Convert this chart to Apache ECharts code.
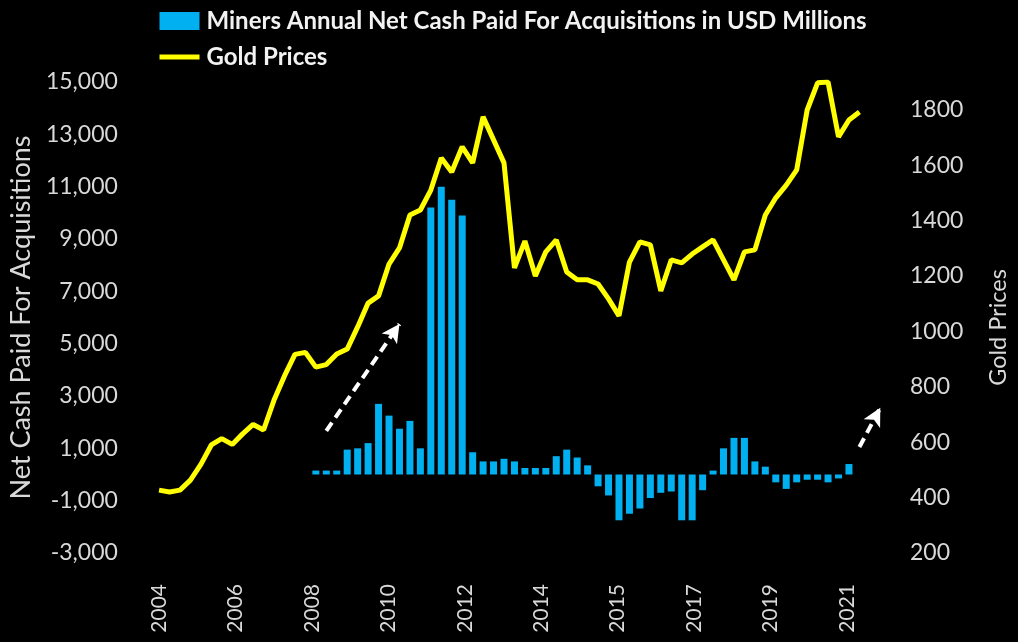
<!DOCTYPE html>
<html>
<head>
<meta charset="utf-8">
<script src="https://cdn.jsdelivr.net/npm/echarts@6/dist/echarts.min.js"></script>
<style>
html,body{margin:0;padding:0;background:#000;}
#chart{width:1018px;height:642px;}
</style>
</head>
<body>
<div id="chart"></div>
<script>
// ---- data ----
const quarters = [];
for (let y = 2004; y <= 2021; y++) {
  for (let q = 1; q <= 4; q++) {
    if (y === 2004 && q === 1) continue;
    quarters.push(y + ' Q' + q);
  }
}
// tick labels shown under the x axis
const yearTicks = ['2004','2006','2008','2010','2012','2014','2015','2017','2019','2021'];

// Gold price (USD/oz), quarterly from 2004 Q2 to 2021 Q1
const goldPrices = [
  427, 420, 427, 463, 520, 590, 613, 592, 630, 664,
  644, 752, 839, 917, 924, 871, 880, 918, 936, 1016,
  1102, 1128, 1243, 1301, 1420, 1438, 1510, 1626, 1575, 1666,
  1608, 1774, 1691, 1608, 1229, 1326, 1200, 1287, 1330, 1214,
  1186, 1186, 1171, 1117, 1056, 1250, 1323, 1312, 1146, 1258,
  1247, 1279, 1305, 1330, 1258, 1186, 1287, 1294, 1420, 1482,
  1528, 1583, 1799, 1897, 1900, 1702, 1763, 1792
];

// Miners annual net cash paid for acquisitions (USD millions), quarterly from 2008 Q1
const acqStart = '2008 Q1';
const acqValues = [
  150, 150, 150, 950, 1000, 1200, 2700, 2250, 1750, 2050,
  1000, 10200, 11000, 10500, 9900, 850, 500, 500, 600, 500,
  250, 250, 250, 700, 950, 650, 350, -450, -800, -1750,
  -1500, -1300, -900, -700, -650, -1750, -1750, -600, 150, 1000,
  1400, 1400, 500, 300, -300, -550, -300, -200, -200, -300,
  -150, 400
];

// dashed trend arrows: [from, to] as [quarter, value on acquisitions axis]
const arrows = [
  [['2008 Q2', 1670], ['2010 Q1', 5750]],
  [['2021 Q1', 1050], ['2021 Q3', 2550]]
];

const barName = 'Miners Annual Net Cash Paid For Acquisitions in USD Millions';
const lineName = 'Gold Prices';

// ---- build ----
const startIdx = quarters.indexOf(acqStart);
const barData = quarters.map((q, i) => {
  const k = i - startIdx;
  return (k >= 0 && k < acqValues.length) ? acqValues[k] : null;
});
const tickSlots = 68, tickStep = 7;
const tickAxisData = [];
for (let i = 0; i < tickSlots; i++) {
  tickAxisData.push(i % tickStep === 0 && yearTicks[i / tickStep] ? yearTicks[i / tickStep] : '');
}

const FONT = 'Lato';
const TXT = '#d9d9d9';

const chart = echarts.init(document.getElementById('chart'), null, {renderer: 'canvas'});
chart.setOption({
  backgroundColor: '#000000',
  animation: false,
  textStyle: {fontFamily: FONT},
  legend: {
    orient: 'vertical',
    left: 157,
    top: 9,
    padding: 0,
    itemWidth: 40,
    itemHeight: 18,
    itemGap: 12,
    textStyle: {color: '#f2f2f2', fontSize: 24, fontWeight: 'bold', fontFamily: FONT, padding: [0, 0, 0, 2]},
    data: [
      {name: barName, icon: 'rect'},
      {name: lineName, itemStyle: {opacity: 0}, lineStyle: {width: 5, color: '#FFFF00'}}
    ]
  },
  grid: {left: 151.5, width: 752, top: 82, bottom: 642 - 553, containLabel: false},
  xAxis: [
    {
      type: 'category',
      data: tickAxisData,
      position: 'bottom',
      boundaryGap: true,
      axisLine: {show: false},
      axisTick: {show: false},
      axisLabel: {interval: 0, rotate: 90, margin: 31, color: TXT, fontSize: 21, fontFamily: FONT}
    },
    {
      type: 'category',
      data: quarters,
      position: 'bottom',
      boundaryGap: true,
      show: false
    }
  ],
  yAxis: [
    {
      type: 'value',
      min: -3000, max: 15000, interval: 2000,
      name: 'Net Cash Paid For Acquisitions',
      nameLocation: 'middle',
      nameRotate: 90,
      nameGap: 116,
      nameTextStyle: {color: TXT, fontSize: 27, fontFamily: FONT},
      axisLine: {show: false},
      axisTick: {show: false},
      splitLine: {show: false},
      axisLabel: {color: TXT, fontSize: 23, margin: 36, fontFamily: FONT,
        formatter: v => v.toLocaleString('en-US')}
    },
    {
      type: 'value',
      min: 200, max: 1900, interval: 200,
      position: 'right',
      name: 'Gold Prices',
      nameLocation: 'middle',
      nameRotate: 90,
      nameGap: 90,
      nameTextStyle: {color: TXT, fontSize: 23.5, fontFamily: FONT, padding: [0, 20, 0, 0]},
      axisLine: {show: false},
      axisTick: {show: false},
      splitLine: {show: false},
      axisLabel: {color: TXT, fontSize: 23, margin: 14, fontFamily: FONT,
        formatter: v => (v % 200 === 0 ? String(v) : '')}
    }
  ],
  series: [
    {
      name: barName,
      type: 'bar',
      xAxisIndex: 1,
      yAxisIndex: 0,
      data: barData,
      barWidth: 7,
      itemStyle: {color: '#00B0F0'},
      markLine: {
        silent: true,
        symbol: ['none', 'arrow'],
        symbolSize: [14, 18],
        label: {show: false},
        lineStyle: {color: '#ffffff', type: [10, 6], width: 4},
        emphasis: {disabled: true},
        data: arrows.map(a => [{coord: a[0]}, {coord: a[1]}])
      }
    },
    {
      name: lineName,
      type: 'line',
      xAxisIndex: 1,
      yAxisIndex: 1,
      data: goldPrices,
      showSymbol: false,
      symbol: 'none',
      lineStyle: {color: '#FFFF00', width: 5},
      itemStyle: {color: '#FFFF00'}
    }
  ]
});
</script>
</body>
</html>
